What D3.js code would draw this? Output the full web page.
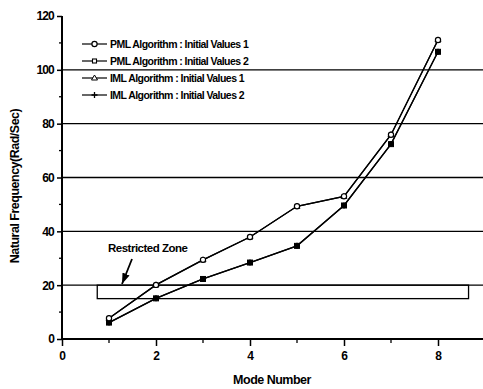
<!DOCTYPE html>
<html>
<head>
<meta charset="utf-8">
<script src="https://cdn.jsdelivr.net/npm/d3@7"></script>
<style>
  body { margin: 0; background: #fff; }
  text { font-family: "Liberation Sans", Arial, sans-serif; font-weight: bold; }
</style>
</head>
<body>
<div id="chart"></div>
<script>
    var width = 483;
    var height = 389;

    // data
    var modes = [1, 2, 3, 4, 5, 6, 7, 8];
    var pml1 = [7.7, 20.1, 29.4, 37.9, 49.3, 53.0, 75.9, 111.1];
    var pml2 = [6.1, 15.1, 22.3, 28.4, 34.6, 49.6, 72.4, 106.7];
    var iml1 = [7.7, 20.1, 29.4, 37.9, 49.3, 53.0, 75.9, 111.1];
    var iml2 = [6.1, 15.1, 22.3, 28.4, 34.6, 49.6, 72.4, 106.7];
    var seriesNames = ["PML Algorithm : Initial Values 1", "PML Algorithm : Initial Values 2",
                       "IML Algorithm : Initial Values 1", "IML Algorithm : Initial Values 2"];
    var xTicks = [0, 2, 4, 6, 8];
    var yTicks = [0, 20, 40, 60, 80, 100, 120];
    var gridValues = [20, 40, 60, 80, 100];
    var zoneX = [0.75, 8.65];
    var zoneY = [15, 20];

    var svg = d3.select("#chart")
          .append("svg")
          .attr("width", width)
          .attr("height", height);

    var x = d3.scaleLinear().domain([0, 9]).range([62, 485]);
    var y = d3.scaleLinear().domain([0, 120]).range([339, 16]);

    // grid lines
    svg.append("g").selectAll("line")
      .data(gridValues)
      .enter().append("line")
      .attr("x1", x(0)).attr("x2", width)
      .attr("y1", function(d){ return y(d); })
      .attr("y2", function(d){ return y(d); })
      .attr("stroke", "#000")
      .attr("stroke-width", 1.3);

    // restricted zone
    svg.append("rect")
      .attr("x", x(zoneX[0]))
      .attr("y", y(zoneY[1]))
      .attr("width", x(zoneX[1]) - x(zoneX[0]))
      .attr("height", y(zoneY[0]) - y(zoneY[1]))
      .attr("fill", "none")
      .attr("stroke", "#000")
      .attr("stroke-width", 1.3);

    svg.append("text")
      .attr("x", 108).attr("y", 252)
      .attr("font-size", 11.5)
      .attr("letter-spacing", -0.5)
      .text("Restricted Zone");

    svg.append("defs").append("marker")
      .attr("id", "arr")
      .attr("viewBox", "0 0 10 10")
      .attr("refX", 10).attr("refY", 5)
      .attr("markerWidth", 6).attr("markerHeight", 6)
      .attr("orient", "auto")
      .append("path")
      .attr("d", "M0,1.5 L10,5 L0,8.5 Z")
      .attr("fill", "#000");

    svg.append("line")
      .attr("x1", 132).attr("y1", 259)
      .attr("x2", 122).attr("y2", 284)
      .attr("stroke", "#000")
      .attr("stroke-width", 1.8)
      .attr("marker-end", "url(#arr)");

    // axes
    var xAxis = d3.axisBottom(x).tickValues(xTicks).tickSize(7).tickPadding(5).tickFormat(d3.format("d"));
    var xg = svg.append("g").attr("transform", "translate(0," + y(0) + ")").call(xAxis);
    xg.select(".domain").attr("d", "M" + x(0) + ",0H" + width).attr("stroke-width", 2);
    xg.selectAll(".tick line").attr("stroke-width", 1.5);
    xg.selectAll("text").attr("font-size", 12).attr("font-family", "Liberation Sans, Arial").attr("font-weight", "bold");
    xg.selectAll(".minor").data([1, 3, 5, 7]).enter().append("line")
      .attr("x1", function(d){ return x(d); }).attr("x2", function(d){ return x(d); })
      .attr("y1", 0).attr("y2", 4).attr("stroke", "#000").attr("stroke-width", 1.3);

    var yAxis = d3.axisLeft(y).tickValues(yTicks).tickSize(5).tickPadding(3);
    var yg = svg.append("g").attr("transform", "translate(" + x(0) + ",0)").call(yAxis);
    yg.select(".domain").attr("d", "M0," + y(120) + "V" + y(0)).attr("stroke-width", 2);
    yg.selectAll(".tick line").attr("stroke-width", 1.5);
    yg.selectAll("text").attr("font-size", 12).attr("font-family", "Liberation Sans, Arial").attr("font-weight", "bold").attr("letter-spacing", -0.8);
    yg.selectAll(".minor").data([10, 30, 50, 70, 90, 110]).enter().append("line")
      .attr("y1", function(d){ return y(d); }).attr("y2", function(d){ return y(d); })
      .attr("x1", 0).attr("x2", -3).attr("stroke", "#000").attr("stroke-width", 1.3);

    svg.append("text")
      .attr("x", 272).attr("y", 384)
      .attr("text-anchor", "middle")
      .attr("font-size", 12.5)
      .attr("letter-spacing", -0.5)
      .text("Mode Number");

    svg.append("text")
      .attr("transform", "translate(19,186) rotate(-90)")
      .attr("text-anchor", "middle")
      .attr("font-size", 12.5)
      .attr("letter-spacing", -0.5)
      .text("Natural Frequency(Rad/Sec)");

    // series
    var line = d3.line()
      .x(function(d, i){ return x(modes[i]); })
      .y(function(d){ return y(d); });

    var allSeries = [pml1, pml2, iml1, iml2];
    allSeries.forEach(function(s){
      svg.append("path")
        .datum(s)
        .attr("d", line)
        .attr("fill", "none")
        .attr("stroke", "#000")
        .attr("stroke-width", 1.3);
    });

    function drawMarker(g, type, cx, cy){
      if(type == 0){
        g.append("circle").attr("cx", cx).attr("cy", cy).attr("r", 2.6)
          .attr("fill", "#fff").attr("stroke", "#000").attr("stroke-width", 1.2);
      }else if(type == 1){
        g.append("rect").attr("x", cx - 2.5).attr("y", cy - 2.5).attr("width", 5).attr("height", 5)
          .attr("fill", "#000").attr("stroke", "#000").attr("stroke-width", 1);
      }else if(type == 2){
        g.append("path").attr("d", "M" + cx + "," + (cy - 3) + "L" + (cx + 3) + "," + (cy + 2) + "L" + (cx - 3) + "," + (cy + 2) + "Z")
          .attr("fill", "#fff").attr("stroke", "#000").attr("stroke-width", 1);
      }else{
        g.append("path").attr("d", "M" + (cx - 3) + "," + cy + "H" + (cx + 3) + "M" + cx + "," + (cy - 3) + "V" + (cy + 3))
          .attr("stroke", "#000").attr("stroke-width", 1.3);
      }
    }

    var mg = svg.append("g");
    [2, 3, 1, 0].forEach(function(t){
      allSeries[t].forEach(function(v, i){
        drawMarker(mg, t, x(modes[i]), y(v));
      });
    });

    // legend
    var legendY = [44, 61, 78, 95];
    var lg = svg.append("g");
    seriesNames.forEach(function(name, i){
      lg.append("line")
        .attr("x1", 82).attr("x2", 107)
        .attr("y1", legendY[i]).attr("y2", legendY[i])
        .attr("stroke", "#000").attr("stroke-width", 1.2);
      if(i == 1){
        lg.append("rect").attr("x", 92.5).attr("y", legendY[i] - 2).attr("width", 4).attr("height", 4)
          .attr("fill", "#fff").attr("stroke", "#000").attr("stroke-width", 1.1);
      }else{
        drawMarker(lg, i, 94.5, legendY[i]);
      }
      lg.append("text")
        .attr("x", 110).attr("y", legendY[i] + 4)
        .attr("font-size", 10.5)
        .attr("letter-spacing", -0.55)
        .text(name);
    });
</script>
</body>
</html>
